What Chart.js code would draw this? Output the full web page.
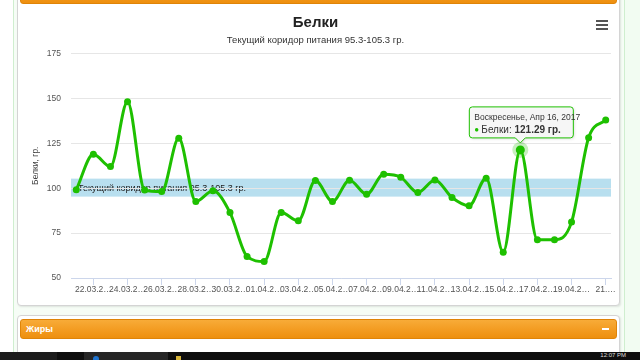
<!DOCTYPE html>
<html lang="ru">
<head>
<meta charset="utf-8">
<title>Белки</title>
<script src="https://cdn.jsdelivr.net/npm/chart.js@4.4.1/dist/chart.umd.min.js"></script>
<style>
  html, body { margin: 0; padding: 0; }
  body {
    width: 640px; height: 360px; position: relative; overflow: hidden;
    background: #fff; font-family: "Liberation Sans", Arial, sans-serif;
  }
  .abs { position: absolute; }
  .wrap { left: 13px; top: 0; width: 610px; height: 352px; background: #f6fdf6;
    border-left: 1px solid #cfeecf; border-right: 1px solid #cfeecf; }
  .side { left: 625px; top: 0; width: 15px; height: 352px; background: #f2fcf2; }
  .card { left: 17px; width: 601px; background: #fff; border: 1px solid #d4d4d4;
    border-radius: 4px; box-shadow: 1px 1px 2px rgba(0, 0, 0, 0.1); }
  .head { left: 20px; width: 595px; border: 1px solid #df8408; border-radius: 3px;
    background: linear-gradient(#f8ab38, #ee8f0e); color: #fff; }
  .head span { position: absolute; left: 5px; top: 0; font-size: 9px; font-weight: bold; }
  .head i { position: absolute; right: 7px; top: 8px; width: 7px; height: 2px; background: #fff; }
  .menu b { display: block; width: 12px; height: 2px; background: #555; margin-bottom: 2px; }
  .task { left: 0; top: 352px; width: 640px; height: 8px; background: #0e0e0e; }
  .task em { position: absolute; right: 14px; top: 0; font-size: 6px; font-style: normal; color: #ddd; line-height: 6px; }
</style>
</head>
<body>
<div class="abs wrap"></div>
<div class="abs side"></div>

<div class="abs card" style="top:-10px;height:314px"></div>
<div class="abs head" style="top:-20px;height:22px"></div>
<div class="abs" style="left:20px;top:5px;width:597px;height:300px">
  <canvas id="proteinChart" width="597" height="300"></canvas>
</div>
<div class="abs menu" style="left:596px;top:20px"><b></b><b></b><b></b></div>

<div class="abs card" style="top:315px;height:60px"></div>
<div class="abs head" style="top:319px;height:18px;line-height:18px"><span>Жиры</span><i></i></div>

<div class="abs task">
  <div class="abs" style="left:0;top:0;width:57px;height:8px;background:#1c1c1c"></div>
  <div class="abs" style="left:84px;top:0;width:84px;height:8px;background:#262626"></div>
  <div class="abs" style="left:93px;top:4px;width:6px;height:6px;border-radius:3px;background:#1f74d0"></div>
  <div class="abs" style="left:176px;top:4px;width:5px;height:4px;background:#d8b53a"></div>
  <em>12:07 PM</em>
</div>

<script>
  // 21.03.2017 .. 21.04.2017, one point per day
  const DATES = [
    '21.03.2017', '22.03.2017', '23.03.2017', '24.03.2017', '25.03.2017', '26.03.2017',
    '27.03.2017', '28.03.2017', '29.03.2017', '30.03.2017', '31.03.2017', '01.04.2017',
    '02.04.2017', '03.04.2017', '04.04.2017', '05.04.2017', '06.04.2017', '07.04.2017',
    '08.04.2017', '09.04.2017', '10.04.2017', '11.04.2017', '12.04.2017', '13.04.2017',
    '14.04.2017', '15.04.2017', '16.04.2017', '17.04.2017', '18.04.2017', '19.04.2017',
    '20.04.2017', '21.04.2017'
  ];
  const PROTEIN = [
    99.1, 118.9, 112, 148.1, 99, 98.1,
    127.8, 92.6, 98.5, 86.4, 62, 59.2,
    86.4, 81.8, 104.2, 92.6, 104.4, 96.6,
    107.8, 106.1, 97.6, 104.6, 94.8, 90.2,
    105.5, 64.4, 121.29, 71.3, 71.3, 81.1,
    128.1, 137.9
  ];
  // labels shown under every second day, as cut by the original chart
  const X_TICK_LABELS = [
    '22.03.2…', '24.03.2…', '26.03.2…', '28.03.2…', '30.03.2…', '01.04.2…',
    '03.04.2…', '05.04.2…', '07.04.2…', '09.04.2…', '11.04.2…', '13.04.2…',
    '15.04.2…', '17.04.2…', '19.04.2…', '21.…'
  ];
  const Y_TICKS = [50, 75, 100, 125, 150, 175];
  const CORRIDOR = [95.3, 105.3];
  const CORRIDOR_LABEL = 'Текущий коридор питания 95.3-105.3 гр.';
  const HOVER_INDEX = 26;

  const WEEKDAYS = ['Воскресенье', 'Понедельник', 'Вторник', 'Среда', 'Четверг', 'Пятница', 'Суббота'];
  const MONTHS = ['Янв', 'Фев', 'Мар', 'Апр', 'Май', 'Июн', 'Июл', 'Авг', 'Сен', 'Окт', 'Ноя', 'Дек'];

  const GREEN = '#1ec000';
  const FONT = '"Liberation Sans", Arial, sans-serif';

  function tooltipTitle(dateStr) {
    const [d, m, y] = dateStr.split('.').map(Number);
    const day = new Date(y, m - 1, d).getDay();
    return `${WEEKDAYS[day]}, ${MONTHS[m - 1]} ${d}, ${y}`;
  }

  const corridorPlugin = {
    id: 'corridor',
    beforeDraw(chart) {
      const { ctx, chartArea: a, scales: { y } } = chart;
      const top = y.getPixelForValue(CORRIDOR[1]);
      const bottom = y.getPixelForValue(CORRIDOR[0]);
      ctx.save();
      ctx.fillStyle = 'rgba(68,170,213,0.38)';
      ctx.fillRect(a.left, top, a.right - a.left, bottom - top);
      ctx.fillStyle = '#222';
      ctx.font = `9px ${FONT}`;
      ctx.textBaseline = 'middle';
      ctx.fillText(CORRIDOR_LABEL, a.left + 7, (top + bottom) / 2 + 1);
      ctx.restore();
    }
  };

  const hoverPlugin = {
    id: 'hoverTip',
    beforeDatasetsDraw(chart) {
      const pt = chart.getDatasetMeta(0).data[HOVER_INDEX];
      const ctx = chart.ctx;
      ctx.save();
      ctx.fillStyle = 'rgba(30,192,0,0.25)';
      ctx.beginPath();
      ctx.arc(pt.x, pt.y, 8, 0, Math.PI * 2);
      ctx.fill();
      ctx.restore();
    },
    afterDraw(chart) {
      const pt = chart.getDatasetMeta(0).data[HOVER_INDEX];
      const ctx = chart.ctx;
      const w = 104, h = 31, r = 3;
      const left = pt.x - 51, top = pt.y - 43;
      const right = left + w, bottom = top + h;
      const tipY = pt.y - 7;
      ctx.save();
      ctx.shadowColor = 'rgba(0,0,0,0.15)';
      ctx.shadowOffsetX = 1;
      ctx.shadowOffsetY = 1;
      ctx.shadowBlur = 3;
      ctx.beginPath();
      ctx.moveTo(left + r, top);
      ctx.lineTo(right - r, top);
      ctx.quadraticCurveTo(right, top, right, top + r);
      ctx.lineTo(right, bottom - r);
      ctx.quadraticCurveTo(right, bottom, right - r, bottom);
      ctx.lineTo(pt.x + 5, bottom);
      ctx.lineTo(pt.x, tipY);
      ctx.lineTo(pt.x - 5, bottom);
      ctx.lineTo(left + r, bottom);
      ctx.quadraticCurveTo(left, bottom, left, bottom - r);
      ctx.lineTo(left, top + r);
      ctx.quadraticCurveTo(left, top, left + r, top);
      ctx.closePath();
      ctx.fillStyle = 'rgba(247,247,247,0.92)';
      ctx.fill();
      ctx.shadowColor = 'transparent';
      ctx.strokeStyle = GREEN;
      ctx.lineWidth = 1;
      ctx.stroke();

      ctx.textBaseline = 'middle';
      ctx.fillStyle = '#333';
      ctx.font = `8.5px ${FONT}`;
      ctx.fillText(tooltipTitle(DATES[HOVER_INDEX]), left + 5, top + 11);

      const lineY = top + 23;
      ctx.fillStyle = GREEN;
      ctx.font = `8px ${FONT}`;
      ctx.fillText('●', left + 5, lineY);
      ctx.fillStyle = '#333';
      ctx.font = `10px ${FONT}`;
      const name = 'Белки: ';
      ctx.fillText(name, left + 12, lineY);
      const nameW = ctx.measureText(name).width;
      ctx.font = `bold 10px ${FONT}`;
      ctx.fillText(PROTEIN[HOVER_INDEX].toFixed(2) + ' гр.', left + 12 + nameW, lineY);
      ctx.restore();
    }
  };

  new Chart(document.getElementById('proteinChart'), {
    type: 'line',
    data: {
      datasets: [{
        label: 'Белки',
        data: PROTEIN.map((v, i) => ({ x: i, y: v })),
        borderColor: GREEN,
        backgroundColor: GREEN,
        borderWidth: 3,
        cubicInterpolationMode: 'monotone',
        pointRadius: (ctx) => (ctx.dataIndex === HOVER_INDEX ? 4.5 : 3.5),
        pointBackgroundColor: GREEN,
        pointBorderWidth: 0
      }]
    },
    options: {
      responsive: false,
      animation: false,
      events: [],
      layout: { padding: { left: 0, right: 6, top: 0, bottom: 0 } },
      plugins: {
        legend: { display: false },
        tooltip: { enabled: false },
        title: {
          display: true,
          text: 'Белки',
          color: '#222',
          font: { family: FONT, size: 15, weight: 'bold' },
          padding: { top: 9, bottom: 0 }
        },
        subtitle: {
          display: true,
          text: CORRIDOR_LABEL,
          color: '#333',
          font: { family: FONT, size: 9.5 },
          padding: { top: 3, bottom: 7 }
        }
      },
      scales: {
        x: {
          type: 'linear',
          min: -0.31,
          max: PROTEIN.length - 1 + 0.31,
          afterBuildTicks(scale) {
            scale.ticks = X_TICK_LABELS.map((_, k) => ({ value: 2 * k + 1 }));
          },
          afterFit(scale) {
            scale.height = 27;
            scale.paddingLeft = 0;
            scale.paddingRight = 0;
          },
          ticks: {
            autoSkip: false,
            maxRotation: 0,
            padding: 0,
            color: '#555',
            font: { family: FONT, size: 8.5 },
            callback: (value) => X_TICK_LABELS[(value - 1) / 2]
          },
          grid: { drawOnChartArea: false, drawTicks: true, tickLength: 7, tickColor: '#ccd6eb' },
          border: { display: true, color: '#ccd6eb' }
        },
        y: {
          min: Y_TICKS[0],
          max: Y_TICKS[Y_TICKS.length - 1],
          afterBuildTicks(scale) {
            scale.ticks = Y_TICKS.map((v) => ({ value: v }));
          },
          afterFit(scale) {
            scale.width = 51;
          },
          ticks: {
            padding: 10,
            color: '#555',
            font: { family: FONT, size: 8.5 }
          },
          grid: { color: '#e6e6e6', drawTicks: false },
          border: { display: false },
          title: {
            display: true,
            text: 'Белки, гр.',
            color: '#444',
            font: { family: FONT, size: 8.5 },
            padding: { top: 11, bottom: 0 }
          }
        }
      }
    },
    plugins: [corridorPlugin, hoverPlugin]
  });
</script>
</body>
</html>
